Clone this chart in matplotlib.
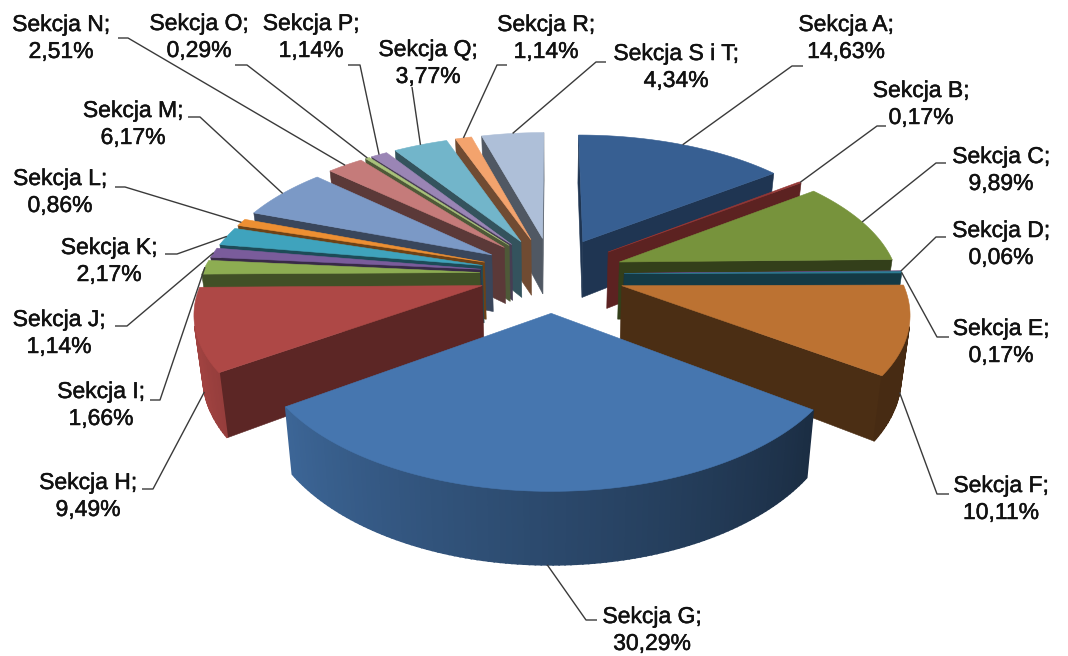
import numpy as np
import matplotlib
matplotlib.use('Agg')
import matplotlib.pyplot as plt
import matplotlib.colors as mcolors
import matplotlib.patheffects as pe

# dane z wykresu
sections = ["A", "B", "C", "D", "E", "F", "G", "H", "I", "J",
            "K", "L", "M", "N", "O", "P", "Q", "R", "S i T"]
shares = [14.63, 0.17, 9.89, 0.06, 0.17, 10.11, 30.29, 9.49, 1.66, 1.14,
          2.17, 0.86, 6.17, 2.51, 0.29, 1.14, 3.77, 1.14, 4.34]
colors = ["#375F92", "#953735", "#77933C", "#604A7B", "#2C7F96", "#BC7232",
          "#4676AF", "#AE4846", "#8DAD52", "#7A5C9B", "#3FA3BD", "#ED8F32",
          "#7B99C6", "#C57B7A", "#A9C27A", "#9A85B5", "#72B5CA", "#F3A36D",
          "#AEBFD8"]

# srodek bloku tekstu etykiety (piksele)
label_pos = [(846, 38), (921, 104), (1001, 170), (1001, 244), (1001, 342),
             (1001, 499), (652, 630), (88, 496), (101, 405), (59, 333),
             (109, 261), (60, 192), (133, 124), (61, 38), (199, 37),
             (311, 37), (428, 63), (546, 38), (676, 67)]
# poczatek linii przy etykiecie i zalamanie
leader_start = [(803, 66), (886, 126), (946, 163), (946, 237), (949, 337),
                (949, 494), (597, 620), (142, 489), (150, 400), (115, 326),
                (165, 254), (115, 187), (188, 117), (118, 38), (235, 65),
                (348, 65), (412, 87), (507, 65), (606, 62)]
leader_elbow = [(792, 66), (877, 126), (936, 163), (936, 237), (937, 337),
                (937, 494), (586, 620), (153, 489), (160, 400), (127, 326),
                (177, 254), (125, 187), (200, 117), (128, 38), (247, 65),
                (360, 65), (412, 87), (497, 65), (596, 62)]
# linia konczy sie na dolnej krawedzi bocznej scianki
leader_bottom = ["F", "G", "H"]
# przyciemnienie scianek wewnetrznych
wall_shade = {"A": 0.56, "B": 0.62, "C": 0.43, "F": 0.40, "H": 0.53}

# geometria rzutu
CX, CY = 552, 274
RX, RY = 278, 134
DEPTH = 58
EXPLODE = 0.28
EXPLODE_X = 0.26
PERSP = 6.07
BOTTOM_SHRINK = 0.025


def project(u, v, z=0.0):
    s = PERSP / (PERSP + v)
    return CX + RX * u * s * (1 - BOTTOM_SHRINK * z), CY - RY * v * s + DEPTH * z * s


def shade(color, f):
    return tuple(c * f for c in mcolors.to_rgb(color))


def side_factor(theta):
    return float(np.clip(0.38 + (theta - 126) * 0.0044, 0.38, 0.92))


def facing_front(quad):
    xs = np.array([p[0] for p in quad])
    ys = np.array([p[1] for p in quad])
    return np.sum(xs * np.roll(ys, -1) - np.roll(xs, -1) * ys) < 0


def draw_poly(ax, pts, color, lw=0.4):
    ax.fill([p[0] for p in pts], [p[1] for p in pts], facecolor=color,
            edgecolor=color, linewidth=lw)


def draw_slice(ax, t0, t1, color, wall_f):
    mid = np.radians((t0 + t1) / 2)
    du, dv = EXPLODE_X * np.sin(mid), EXPLODE * np.cos(mid)
    angles = np.linspace(t0, t1, max(2, int(t1 - t0) + 2))
    rad = np.radians(angles)
    us, vs = du + np.sin(rad), dv + np.cos(rad)

    top = [project(u, v) for u, v in zip(us, vs)]
    bottom = [project(u, v, 1.0) for u, v in zip(us, vs)]
    apex_t = project(du, dv)
    apex_b = project(du, dv, 1.0)

    # scianki wewnetrzne
    wall_col = shade(color, wall_f)
    for quad in ([apex_t, top[0], bottom[0], apex_b],
                 [top[-1], apex_t, apex_b, bottom[-1]]):
        if facing_front(quad):
            draw_poly(ax, quad, wall_col)

    # scianka zewnetrzna z gradientem, z grubsza krawedzia zeby nie bylo prazkow
    for i in range(len(angles) - 1):
        quad = [top[i], top[i + 1], bottom[i + 1], bottom[i]]
        if facing_front(quad):
            a = (angles[i] + angles[i + 1]) / 2
            draw_poly(ax, quad, shade(color, side_factor(a)), lw=1.2)

    draw_poly(ax, [apex_t] + top, color)


fig, ax = plt.subplots(figsize=(10.68, 6.56), dpi=100)
fig.subplots_adjust(0, 0, 1, 1)
ax.set_xlim(0, 1068)
ax.set_ylim(656, 0)
ax.axis("off")

edges = np.cumsum([0] + shares) / sum(shares) * 360
mids = (edges[:-1] + edges[1:]) / 2

# od tylu do przodu
for i in sorted(range(len(shares)), key=lambda k: -abs(mids[k] - 180)):
    draw_slice(ax, edges[i], edges[i + 1], colors[i],
               wall_shade.get(sections[i], 0.46))

for i, name in enumerate(sections):
    m = np.radians(mids[i])
    z = 1.0 if name in leader_bottom else 0.0
    end = project((1 + EXPLODE_X) * np.sin(m), (1 + EXPLODE) * np.cos(m), z)
    ax.plot([leader_start[i][0], leader_elbow[i][0], end[0]],
            [leader_start[i][1], leader_elbow[i][1], end[1]],
            color="#3a3a3a", lw=1.0, solid_capstyle="butt", zorder=5)
    pct = f"{shares[i]:.2f}".replace(".", ",")
    ax.text(label_pos[i][0], label_pos[i][1], f"Sekcja {name};\n{pct}%",
            ha="center", va="center", family="Liberation Sans", fontsize=16.5,
            color="#111111", linespacing=1.22, zorder=6,
            path_effects=[pe.withStroke(linewidth=0.35, foreground="#111111")])

fig.savefig("out.png", dpi=100)
